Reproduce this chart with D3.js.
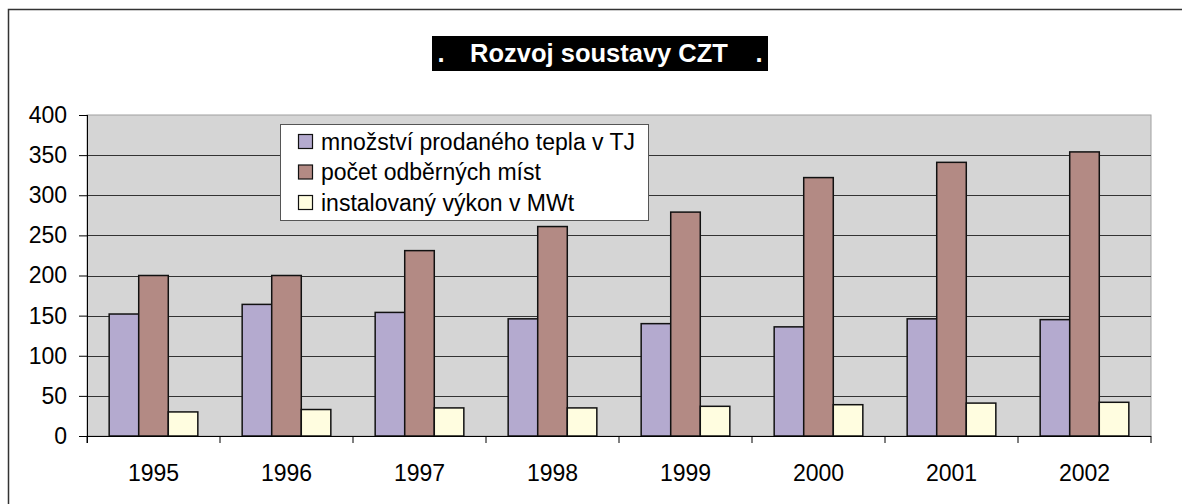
<!DOCTYPE html>
<html>
<head>
<meta charset="utf-8">
<script src="https://cdn.jsdelivr.net/npm/d3@7"></script>
<style>
  body { margin: 0; background: #fff; }
  svg { display: block; font-family: "Liberation Sans", Arial, sans-serif; }
</style>
</head>
<body>
<div id="chart-area"></div>
<script>
var w = 1182;
var h = 504;

// data
var years = ["1995", "1996", "1997", "1998", "1999", "2000", "2001", "2002"];
var seriesNames = ["množství prodaného tepla v TJ", "počet odběrných míst", "instalovaný výkon v MWt"];
var heatTJ = [152, 164, 154, 146, 140, 136, 146, 145];
var points = [200, 200, 231, 261, 279, 322, 341, 354];
var powerMW = [30, 33, 35, 35, 37, 39, 41, 42];
var yTicks = [0, 50, 100, 150, 200, 250, 300, 350, 400];
var colors = ["#b4aacf", "#b38a84", "#fffde0"];

var seriesVals = [heatTJ, points, powerMW];

var plot = {left: 87, right: 1151, top: 115, bottom: 436};

var svg = d3.select('#chart-area').append('svg')
    .attr('width', w)
    .attr('height', h);

// outer frame (only top & left visible)
svg.append('rect')
    .attr('x', 8.5).attr('y', 9.5)
    .attr('width', w + 20).attr('height', h + 20)
    .attr('fill', 'none')
    .attr('stroke', '#333')
    .attr('stroke-width', 1.5);

// title
svg.append('rect')
    .attr('x', 432).attr('y', 36)
    .attr('width', 336).attr('height', 35)
    .attr('fill', '#000');
svg.append('text')
    .attr('x', 599).attr('y', 62)
    .attr('text-anchor', 'middle')
    .attr('font-size', 25.5)
    .attr('font-weight', 'bold')
    .attr('fill', '#fff')
    .text("Rozvoj soustavy CZT");
svg.append('text')
    .attr('x', 441).attr('y', 62)
    .attr('text-anchor', 'middle')
    .attr('font-size', 25.5)
    .attr('font-weight', 'bold')
    .attr('fill', '#fff')
    .text(".");
svg.append('text')
    .attr('x', 759).attr('y', 62)
    .attr('text-anchor', 'middle')
    .attr('font-size', 25.5)
    .attr('font-weight', 'bold')
    .attr('fill', '#fff')
    .text(".");

var x0 = d3.scaleBand()
    .domain(years)
    .range([plot.left, plot.right])
    .padding(0);

var x1 = d3.scaleBand()
    .domain(d3.range(seriesNames.length))
    .range([0, x0.bandwidth()])
    .paddingInner(0)
    .paddingOuter(0.75);

var y = d3.scaleLinear()
    .domain([0, 400])
    .range([plot.bottom, plot.top]);

// plot background
svg.append('rect')
    .attr('x', plot.left).attr('y', plot.top)
    .attr('width', plot.right - plot.left)
    .attr('height', plot.bottom - plot.top)
    .attr('fill', '#d5d5d5')
    .attr('stroke', '#a0a0a0')
    .attr('stroke-width', 1);

// gridlines
svg.append('g').selectAll('line')
    .data(yTicks.filter(function(d){ return d > 0 && d < 400; }))
    .enter()
    .append('line')
    .attr('x1', plot.left).attr('x2', plot.right)
    .attr('y1', function(d){ return Math.round(y(d)) + 0.5; })
    .attr('y2', function(d){ return Math.round(y(d)) + 0.5; })
    .attr('stroke', '#333')
    .attr('stroke-width', 1);

// bars
var groups = svg.append('g').selectAll('g')
    .data(years)
    .enter()
    .append('g')
    .attr('transform', function(d){ return 'translate(' + x0(d) + ',0)'; });

groups.selectAll('rect')
    .data(function(d, i){ return seriesVals.map(function(s, j){ return {s: j, v: s[i]}; }); })
    .enter()
    .append('rect')
    .attr('x', function(d){ return x1(d.s); })
    .attr('y', function(d){ return y(d.v); })
    .attr('width', x1.bandwidth())
    .attr('height', function(d){ return plot.bottom - y(d.v); })
    .attr('fill', function(d){ return colors[d.s]; })
    .attr('stroke', '#111')
    .attr('stroke-width', 1.5);

// y axis
var yAxis = d3.axisLeft(y)
    .tickValues(yTicks)
    .tickSize(8)
    .tickPadding(12);
var gy = svg.append('g')
    .attr('transform', 'translate(' + plot.left + ',0)')
    .call(yAxis);
gy.selectAll('text').attr('font-size', 23).attr('fill', '#000').attr('font-family', '"Liberation Sans", Arial, sans-serif');
gy.selectAll('line').attr('stroke', '#000');
gy.select('.domain').attr('stroke', '#000').attr('d', 'M0.5,' + plot.top + 'V' + (plot.bottom + 7));

// x axis (ticks at category borders)
var gx = svg.append('g');
gx.append('line')
    .attr('x1', plot.left).attr('x2', plot.right)
    .attr('y1', plot.bottom + 0.5).attr('y2', plot.bottom + 0.5)
    .attr('stroke', '#000');
gx.selectAll('.tk')
    .data(years.concat(['end']))
    .enter()
    .append('line')
    .attr('class', 'tk')
    .attr('x1', function(d){ return d === 'end' ? plot.right : x0(d); })
    .attr('x2', function(d){ return d === 'end' ? plot.right : x0(d); })
    .attr('y1', plot.bottom)
    .attr('y2', plot.bottom + 7)
    .attr('stroke', '#000');
gx.selectAll('text')
    .data(years)
    .enter()
    .append('text')
    .attr('x', function(d){ return x0(d) + x0.bandwidth() / 2; })
    .attr('y', 481)
    .attr('text-anchor', 'middle')
    .attr('font-size', 23)
    .attr('fill', '#000')
    .text(function(d){ return d; });

// legend
var legend = svg.append('g')
    .attr('transform', 'translate(280,124)');
legend.append('rect')
    .attr('x', 0.5).attr('y', 0.5)
    .attr('width', 368).attr('height', 96)
    .attr('fill', '#fff')
    .attr('stroke', '#555');
legend.selectAll('.sw')
    .data(seriesNames)
    .enter()
    .append('rect')
    .attr('class', 'sw')
    .attr('x', 18.5)
    .attr('y', function(d, i){ return 10.5 + i * 30.5; })
    .attr('width', 14)
    .attr('height', 14)
    .attr('fill', function(d, i){ return colors[i]; })
    .attr('stroke', '#111')
    .attr('stroke-width', 1.2);
legend.selectAll('.lt')
    .data(seriesNames)
    .enter()
    .append('text')
    .attr('class', 'lt')
    .attr('x', 41)
    .attr('y', function(d, i){ return 25.5 + i * 30.5; })
    .attr('font-size', 23)
    .attr('fill', '#000')
    .text(function(d){ return d; });
</script>
</body>
</html>
